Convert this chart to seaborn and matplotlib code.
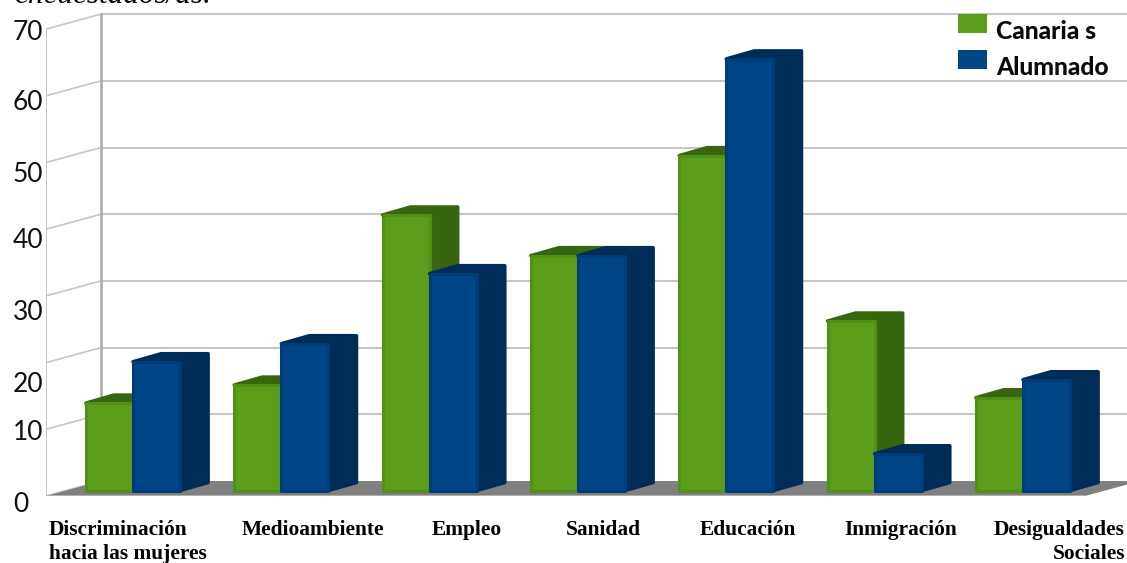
import matplotlib
matplotlib.use("Agg")
import matplotlib.pyplot as plt
from matplotlib.patches import Polygon, Rectangle
from matplotlib.transforms import Affine2D, IdentityTransform
import pandas as pd
import seaborn as sns

# Survey shares per topic
categories = ["Discriminación\nhacia las mujeres", "Medioambiente", "Empleo", "Sanidad",
              "Educación", "Inmigración", "Desigualdades\nSociales"]
canarias = [13.1, 15.8, 41.3, 35.2, 50.2, 25.4, 13.9]
alumnado = [19.3, 22.0, 32.5, 35.2, 64.7, 5.5, 16.6]
y_ticks = [0, 10, 20, 30, 40, 50, 60, 70]
series_names = ["Canaria s", "Alumnado"]

GREEN, GREEN_EDGE, GREEN_DARK = "#5a9e1c", "#4f9019", "#386610"
BLUE, BLUE_EDGE, BLUE_DARK = "#004586", "#003c78", "#002d58"

W, H = 1127, 563
sns.set_theme(style="white")
fig = plt.figure(figsize=(W / 100, H / 100), dpi=100)

# The axes' data plane is the front of the bars; the floor and the wall are
# drawn on planes shifted in pixels to give the chart its depth.
PX_PER_UNIT = 6.67
ZERO_PX = 490.5
AX_LEFT, AX_BOTTOM = 46, 496
ax = fig.add_axes([AX_LEFT / W, (H - AX_BOTTOM) / H, 1 - AX_LEFT / W, AX_BOTTOM / H])

df = pd.DataFrame({
    "tema": categories * 2,
    "valor": canarias + alumnado,
    "serie": [series_names[0]] * len(categories) + [series_names[1]] * len(categories),
})
sns.barplot(data=df, x="tema", y="valor", hue="serie", order=categories, hue_order=series_names,
            palette=[GREEN, BLUE], width=0.635, gap=0, saturation=1, ax=ax, legend=True)

GROUP_PX, FIRST_CENTER_PX = 148.33, 133
ax.set_xlim((AX_LEFT - FIRST_CENTER_PX) / GROUP_PX, (W - FIRST_CENTER_PX) / GROUP_PX)
ax.set_ylim((ZERO_PX - AX_BOTTOM) / PX_PER_UNIT, ZERO_PX / PX_PER_UNIT)
ax.set_xlabel("")
ax.set_ylabel("")
for spine in ax.spines.values():
    spine.set_visible(False)
ax.patch.set_alpha(0)
fig.canvas.draw()

bars = sorted([p for p in ax.patches if isinstance(p, Rectangle) and p.get_height() > 0],
              key=lambda p: p.get_x())

# Depth planes, as pixel shifts from the bar plane
front_plane = ax.transData + Affine2D().translate(-16, -5.5)
wall_plane = ax.transData + Affine2D().translate(39, 9.5)
identity = IdentityTransform()

GRID = "#c6c6c6"
WALL_AXIS = "#a8a8a8"
x0, x1 = ax.get_xlim()
x_front = (46 + 16 - FIRST_CENTER_PX) / GROUP_PX
x_wall = (101 - 39 - FIRST_CENTER_PX) / GROUP_PX


def pixel(x, y, transform):
    return transform.transform((x, y))


# Floor
fl = pixel(x_front, 0, front_plane)
fr = fl + (1039, 0)
floor = Polygon([fl, fr, fr + (55, 15), fl + (55, 15)], closed=True, transform=identity,
                facecolor="#808080", edgecolor="none", zorder=1.2)
ax.add_patch(floor)

# Wall grid, side-wall slants and the two upright lines
for v in y_ticks:
    a, b = pixel(x_front, v, front_plane), pixel(x_wall, v, wall_plane)
    ax.plot([a[0], b[0]], [a[1], b[1]], transform=identity, color=GRID, lw=1.2, zorder=1.1)
    if v:
        ax.plot([x_wall, x1 + 1], [v, v], transform=wall_plane, color=GRID, lw=1.5, zorder=1.1)
ax.plot([x_front, x_front], [0, 70], transform=front_plane, color="#bcbcbc", lw=1.2, zorder=1.1)
ax.plot([x_wall, x_wall], [0, 70], transform=wall_plane, color=WALL_AXIS, lw=1.8, zorder=1.1)
ax.plot([x_front, (1085 + 16 - FIRST_CENTER_PX) / GROUP_PX], [0, 0], transform=front_plane,
        color="#b8b8b8", lw=1.2, zorder=1.3)

# Extruded side and top of every bar
DEPTH_X, DEPTH_Y = 28, 8
for i, bar in enumerate(bars):
    is_green = bar.get_facecolor()[1] > bar.get_facecolor()[2]
    edge = GREEN_EDGE if is_green else BLUE_EDGE
    dark = GREEN_DARK if is_green else BLUE_DARK
    z = 2 + i * 0.1
    (lx, by), (rx, ty) = ax.transData.transform(
        [(bar.get_x(), 0), (bar.get_x() + bar.get_width(), bar.get_height())])
    shell = Polygon([(rx, by), (rx + DEPTH_X, by + DEPTH_Y), (rx + DEPTH_X, ty + DEPTH_Y),
                     (lx + DEPTH_X, ty + DEPTH_Y), (lx, ty), (rx, ty)], closed=True,
                    transform=identity, facecolor=dark, edgecolor=dark, lw=2.6, joinstyle="round",
                    zorder=z)
    ax.add_patch(shell)
    bar.set_edgecolor(edge)
    bar.set_linewidth(2.2)
    bar.set_joinstyle("round")
    bar.set_zorder(z + 0.05)

# Value axis labels sit slightly off their grid levels
y_label_px = [504, 432, 385, 313, 241, 174, 103, 32]
ax.set_yticks(y_ticks, [str(v) for v in y_ticks])
ax.tick_params(axis="y", length=0, pad=0)
for tick, v, py in zip(ax.yaxis.get_major_ticks(), y_ticks, y_label_px):
    label = tick.label1
    label.set_fontfamily("Lato")
    label.set_fontsize(19)
    label.set_color("#111111")
    label.set_ha("left")
    label.set_va("center")
    shift = (ZERO_PX - PX_PER_UNIT * v) - py
    label.set_transform(label.get_transform() + Affine2D().translate(13 - AX_LEFT, shift))

# Category labels
label_shift = [-84, 32, 37, 25, 22, 26, 102]
label_align = ["left", "center", "center", "center", "center", "center", "right"]
ax.set_xticks(range(len(categories)), categories)
ax.tick_params(axis="x", length=0, pad=0)
for tick, dx, align in zip(ax.xaxis.get_major_ticks(), label_shift, label_align):
    label = tick.label1
    label.set_fontfamily("Liberation Serif")
    label.set_fontweight("bold")
    label.set_fontsize(15.4)
    label.set_color("#000000")
    label.set_ha(align)
    label.set_va("top")
    label.set_multialignment(align)
    label.set_linespacing(1.28)
    label.set_transform(label.get_transform() + Affine2D().translate(dx, -24))

# Legend in the upper right corner
legend = ax.legend(loc="upper left", bbox_to_anchor=(958 / W, 1 - 20 / H), bbox_transform=fig.transFigure,
                   frameon=False, handlelength=1.18, handleheight=0.82,
                   handletextpad=0.36, labelspacing=0.53, borderpad=0, borderaxespad=0,
                   prop={"family": "Lato", "weight": "black", "size": 17.7})
for text in legend.get_texts():
    text.set_color("#0a0a0a")
for handle in legend.legend_handles:
    handle.set_y(handle.get_y() + 5)
    handle.set_linewidth(0)
legend.set_zorder(10)

# Last line of the paragraph above, cut by the top edge
fig.text(14, 563 - 3, "encuestados/as.", family="Liberation Serif", style="italic", fontsize=22.5,
         color="#000000", transform=identity, ha="left", va="baseline")

fig.savefig("out.png", dpi=100)
